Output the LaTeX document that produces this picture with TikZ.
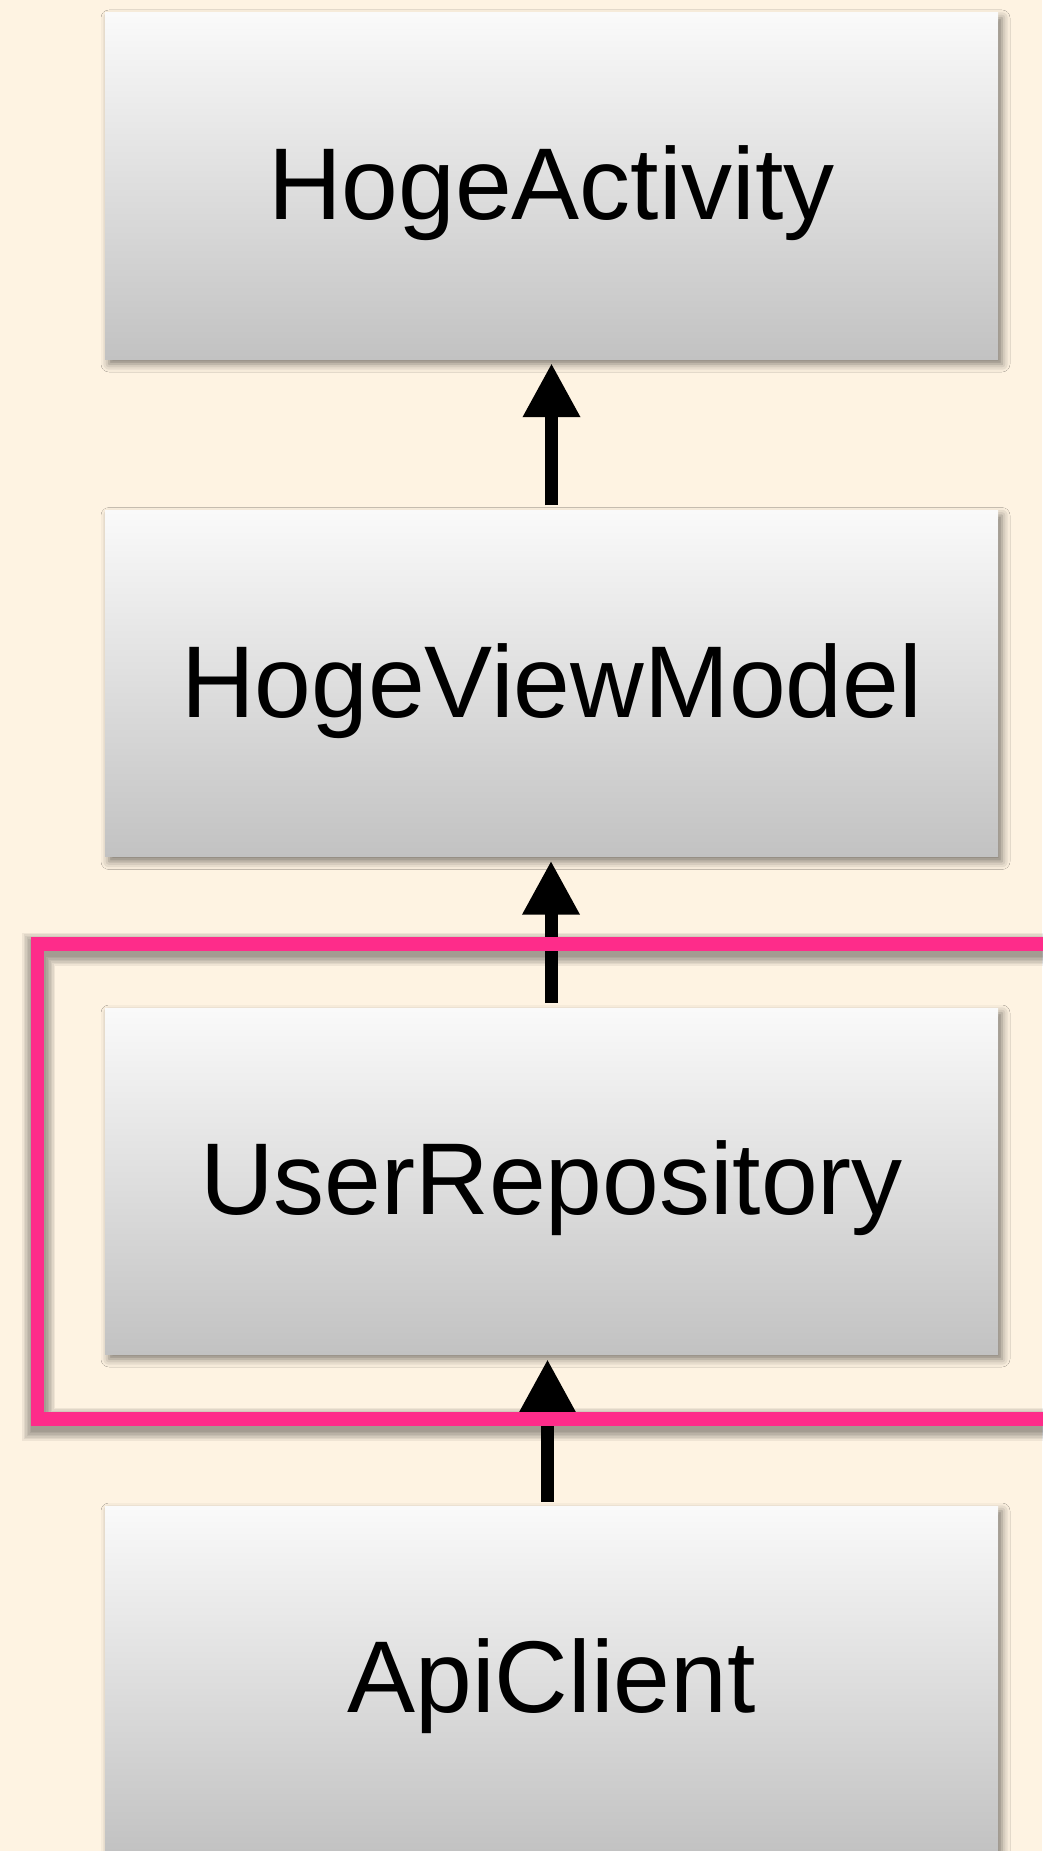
\documentclass[tikz,border=0pt]{standalone}
\usepackage{fontspec}
\setmainfont{Liberation Sans}
\usetikzlibrary{arrows.meta,shadows.blur}

\definecolor{paper}{HTML}{FEF3E2}
\definecolor{boxtop}{HTML}{FAFAFA}
\definecolor{boxbottom}{HTML}{C2C2C2}
\definecolor{framepink}{HTML}{FE2C8A}

\tikzset{
  layerbox/.style={
    rectangle, inner sep=0pt,
    minimum width=893pt, minimum height=346pt,
    top color=boxtop, bottom color=boxbottom,
    blur shadow={shadow xshift=4pt, shadow yshift=-5pt,
                 shadow blur radius=8pt, shadow opacity=50},
    font=\fontsize{102}{110}\selectfont,
    text height=73pt, text depth=6pt
  },
  dep/.style={
    line width=13pt, line cap=butt,
    -{Triangle[length=54pt,width=54pt]}
  },
  frameline/.style={draw=framepink, line width=13.5pt},
  frameshade/.style={draw=black, opacity=0.06}
}

\begin{document}
\begin{tikzpicture}[x=1pt, y=-1pt]
  % page
  \fill[paper] (0,0) rectangle (1042,1851);
  \useasboundingbox (0,0) rectangle (1042,1851);

  % layers, top to bottom
  \node[layerbox] (act)  at (551.5,186)  {HogeActivity};
  \node[layerbox] (vm)   at (551.5,683.5) {HogeViewModel};
  \node[layerbox] (repo) at (551.5,1181) {UserRepository};
  \node[layerbox] (api)  at (551.5,1679) {ApiClient};

  % dependencies point upward
  \draw[dep] ([yshift=5pt]vm.north)   -- ([yshift=-4pt]act.south);
  \draw[dep] ([xshift=-0.5pt,yshift=5pt]repo.north) -- ([xshift=-0.5pt,yshift=-4pt]vm.south);
  \draw[dep] ([xshift=-4pt,yshift=4pt]api.north)  -- ([xshift=-4pt,yshift=-5pt]repo.south);

  % highlight frame around the repository layer, with a soft shadow
  \foreach \w in {15,18,21,24,27,30,33}
    \draw[frameshade, line width=\w pt] (38.5,949) rectangle (1080,1424);
  \draw[frameline] (37.5,944) rectangle (1080,1419);
\end{tikzpicture}
\end{document}
